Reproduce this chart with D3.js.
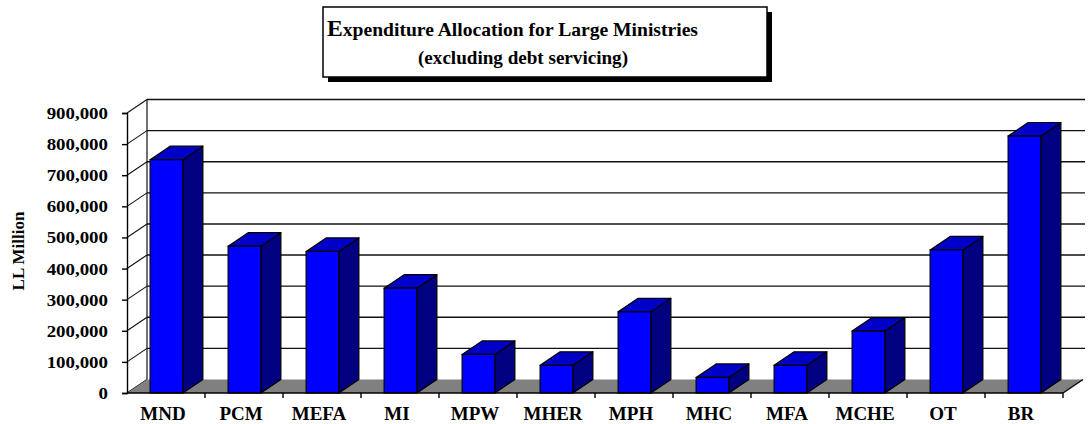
<!DOCTYPE html>
<html>
<head>
<meta charset="utf-8">
<script src="https://cdn.jsdelivr.net/npm/d3@7"></script>
<style>
  html, body { margin: 0; padding: 0; background: #fff; }
  svg { display: block; }
  text { font-family: "Liberation Serif", "Times New Roman", serif; font-weight: bold; fill: #000; }
</style>
</head>
<body>
<svg id="chart" width="1088" height="424"></svg>
<script>
// Ministries (category axis)
const categories = ["MND", "PCM", "MEFA", "MI", "MPW", "MHER", "MPH", "MHC", "MFA", "MCHE", "OT", "BR"];
// Expenditure allocation, LL million
const allocation = [750000, 472000, 455000, 337000, 124000, 89000, 261000, 50000, 89000, 199000, 460000, 826000];
// Value axis ticks
const yTicks = [0, 100000, 200000, 300000, 400000, 500000, 600000, 700000, 800000, 900000];
const titleLines = ["Expenditure Allocation for Large Ministries", "(excluding debt servicing)"];
const yAxisTitle = "LL Million";

const svg = d3.select("#chart");

// Front plane of the 3-D plot area and its depth offset
const plotLeft = 127, plotRight = 1063, plotBottom = 393, plotTop = 113;
const depthX = 20, depthY = -13.5;

const x = d3.scaleBand().domain(categories).range([plotLeft, plotRight]).padding(0);
const y = d3.scaleLinear().domain([0, 900000]).range([plotBottom, plotTop]);
const barW = x.bandwidth() * 0.42;

const gridColor = "#111";

// Back wall gridlines
const wall = svg.append("g");
wall.selectAll("line.grid").data(yTicks.filter(d => d > 0)).join("line")
  .attr("class", "grid")
  .attr("x1", plotLeft + depthX).attr("x2", plotRight + depthX + 2)
  .attr("y1", d => y(d) + depthY).attr("y2", d => y(d) + depthY)
  .attr("stroke", gridColor).attr("stroke-width", 1.4);
// Back wall left edge
wall.append("line")
  .attr("x1", plotLeft + depthX).attr("x2", plotLeft + depthX)
  .attr("y1", y(900000) + depthY).attr("y2", y(0) + depthY)
  .attr("stroke", gridColor).attr("stroke-width", 1.2);
// Side wall gridlines (slanting from the axis to the back wall)
wall.selectAll("line.side").data(yTicks).join("line")
  .attr("class", "side")
  .attr("x1", plotLeft).attr("x2", plotLeft + depthX)
  .attr("y1", d => y(d)).attr("y2", d => y(d) + depthY)
  .attr("stroke", gridColor).attr("stroke-width", 1.1);

// Floor
svg.append("path")
  .attr("d", d3.line()([
    [plotLeft, y(0)], [plotRight, y(0)], [plotRight + depthX, y(0) + depthY], [plotLeft + depthX, y(0) + depthY]
  ]) + "Z")
  .attr("fill", "#808080");
svg.append("line")
  .attr("x1", plotRight).attr("y1", y(0)).attr("x2", plotRight + depthX).attr("y2", y(0) + depthY)
  .attr("stroke", "#000").attr("stroke-width", 1.3);

// Columns: front, top and side faces
const bars = svg.append("g").selectAll("g").data(categories.map((c, i) => ({ c, v: allocation[i] }))).join("g");
const x0 = d => x(d.c) + (x.bandwidth() - barW) / 2 + 0.5;
bars.append("path")
  .attr("d", d => {
    const a = x0(d) + barW, yt = y(d.v), yb = y(0);
    return d3.line()([[a, yt], [a + depthX, yt + depthY], [a + depthX, yb + depthY], [a, yb]]) + "Z";
  })
  .attr("fill", "#000080").attr("stroke", "#000").attr("stroke-width", 1.2).attr("stroke-linejoin", "round");
bars.append("path")
  .attr("d", d => {
    const a = x0(d), yt = y(d.v);
    return d3.line()([[a, yt], [a + barW, yt], [a + barW + depthX, yt + depthY], [a + depthX, yt + depthY]]) + "Z";
  })
  .attr("fill", "#0000c8").attr("stroke", "#000").attr("stroke-width", 1.2).attr("stroke-linejoin", "round");
bars.append("rect")
  .attr("x", d => x0(d)).attr("y", d => y(d.v))
  .attr("width", barW).attr("height", d => y(0) - y(d.v))
  .attr("fill", "#0000ff").attr("stroke", "#000").attr("stroke-width", 1.2);

// Value axis
const yAxis = svg.append("g").attr("transform", `translate(${plotLeft},0)`)
  .call(d3.axisLeft(y).tickValues(yTicks).tickSize(5).tickPadding(14).tickFormat(d3.format(",")));
yAxis.select(".domain").attr("stroke", "#000").attr("stroke-width", 1.4);
yAxis.selectAll(".tick line").attr("stroke", "#000").attr("stroke-width", 1.4);
yAxis.selectAll(".tick text")
  .style("font-family", "'Liberation Serif', serif").style("font-weight", "bold")
  .style("font-size", "16px").attr("fill", "#000")
  .attr("dy", "0.34em")
  .each(function () {
    const n = this.getComputedTextLength();
    d3.select(this).attr("textLength", n * 1.18).attr("lengthAdjust", "spacingAndGlyphs");
  });

// Category axis
const xAxis = svg.append("g").attr("transform", `translate(0,${plotBottom})`)
  .call(d3.axisBottom(x).tickSize(0).tickPadding(14));
xAxis.select(".domain").remove();
xAxis.append("line").attr("x1", plotLeft).attr("x2", plotRight).attr("y1", 0).attr("y2", 0)
  .attr("stroke", "#000").attr("stroke-width", 1.6);
xAxis.selectAll("line.cat").data(categories).join("line").attr("class", "cat")
  .attr("x1", d => x(d) + x.bandwidth()).attr("x2", d => x(d) + x.bandwidth())
  .attr("y1", 0).attr("y2", 5).attr("stroke", "#000").attr("stroke-width", 1.4);
xAxis.selectAll(".tick text")
  .style("font-family", "'Liberation Serif', serif").style("font-weight", "bold")
  .style("font-size", "19px").attr("fill", "#000")
  .attr("x", -3).attr("dy", "0.68em");

// Axis title
svg.append("text")
  .attr("transform", "translate(24,251) rotate(-90)")
  .attr("text-anchor", "middle")
  .style("font-size", "17px")
  .text(yAxisTitle);

// Title box with drop shadow
const tb = { x: 323, y: 7, w: 444, h: 70 };
svg.append("rect").attr("x", tb.x + 5).attr("y", tb.y + 5).attr("width", tb.w).attr("height", tb.h).attr("fill", "#000");
svg.append("rect").attr("x", tb.x).attr("y", tb.y).attr("width", tb.w).attr("height", tb.h)
  .attr("fill", "#fff").attr("stroke", "#000").attr("stroke-width", 1.5);
const t1 = svg.append("text").attr("x", 327).attr("y", 36)
  .attr("textLength", 371).attr("lengthAdjust", "spacingAndGlyphs");
t1.append("tspan").style("font-size", "23px").text(titleLines[0].charAt(0));
t1.append("tspan").style("font-size", "19px").text(titleLines[0].slice(1));
svg.append("text").attr("x", 523).attr("y", 64).attr("text-anchor", "middle")
  .style("font-size", "19px")
  .attr("textLength", 210).attr("lengthAdjust", "spacingAndGlyphs")
  .text(titleLines[1]);
</script>
</body>
</html>
